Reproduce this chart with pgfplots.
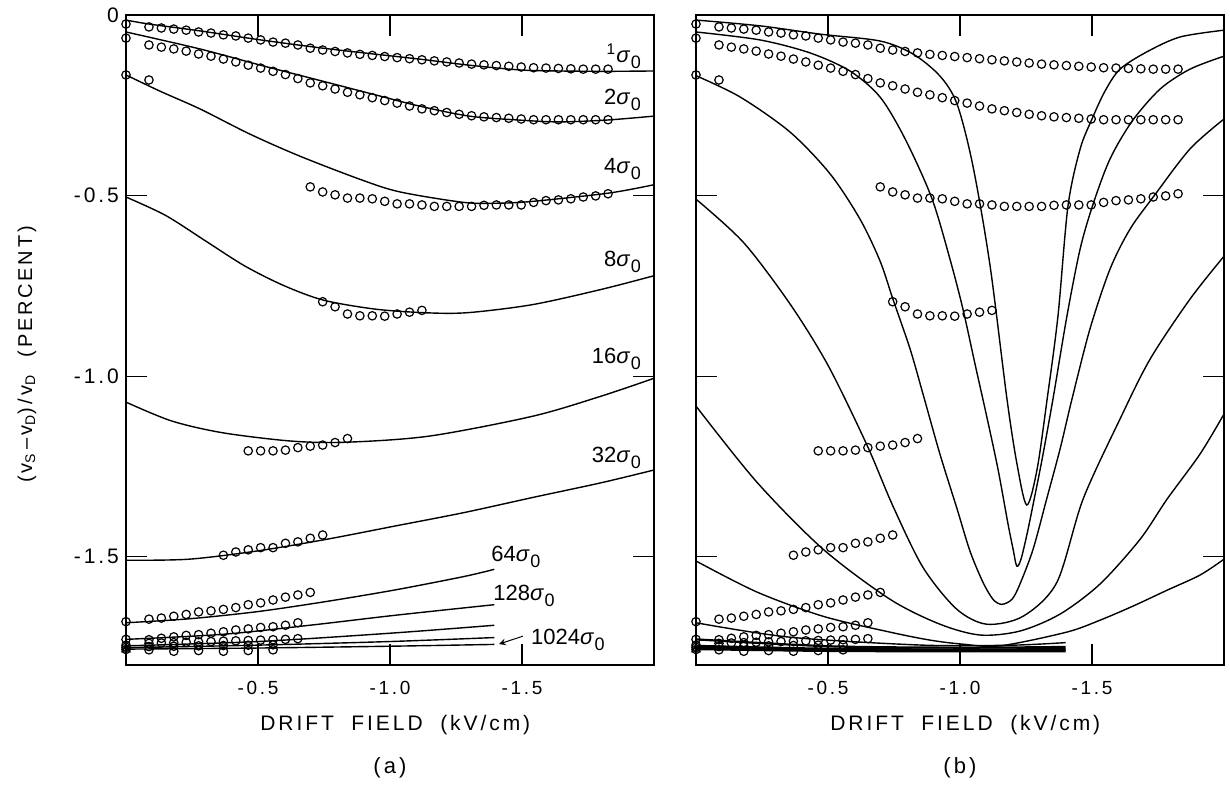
\documentclass[border=0pt]{standalone}
\usepackage{fontspec}
\setmainfont{Liberation Sans}
\newfontfamily\lab[LetterSpace=14]{Liberation Sans}
\usepackage{pgfplots}
\usepackage{pgfplotstable}
\pgfplotsset{compat=1.18}

% measured points (same data in both panels)
\pgfplotstableread{
x y
0 -0.025
-0.087 -0.033
-0.134 -0.036
-0.181 -0.039
-0.228 -0.042
-0.275 -0.047
-0.322 -0.050
-0.369 -0.055
-0.416 -0.058
-0.463 -0.064
-0.510 -0.069
-0.557 -0.075
-0.604 -0.078
-0.651 -0.083
-0.698 -0.092
-0.745 -0.097
-0.792 -0.101
-0.839 -0.105
-0.886 -0.109
-0.933 -0.112
-0.980 -0.115
-1.027 -0.118
-1.074 -0.121
-1.121 -0.124
-1.168 -0.127
-1.215 -0.130
-1.262 -0.133
-1.309 -0.136
-1.356 -0.138
-1.403 -0.140
-1.450 -0.142
-1.497 -0.144
-1.544 -0.146
-1.591 -0.147
-1.638 -0.148
-1.685 -0.149
-1.732 -0.150
-1.779 -0.150
-1.826 -0.150
}\cOne
\pgfplotstableread{
x y
0 -0.064
-0.087 -0.083
-0.134 -0.089
-0.181 -0.094
-0.228 -0.100
-0.275 -0.108
-0.322 -0.114
-0.369 -0.122
-0.416 -0.130
-0.463 -0.139
-0.510 -0.147
-0.557 -0.156
-0.604 -0.165
-0.651 -0.176
-0.698 -0.188
-0.745 -0.196
-0.792 -0.205
-0.839 -0.214
-0.886 -0.221
-0.933 -0.229
-0.980 -0.237
-1.027 -0.244
-1.074 -0.252
-1.121 -0.260
-1.168 -0.265
-1.215 -0.270
-1.262 -0.275
-1.309 -0.279
-1.356 -0.282
-1.403 -0.284
-1.450 -0.286
-1.497 -0.288
-1.544 -0.290
-1.591 -0.290
-1.638 -0.290
-1.685 -0.290
-1.732 -0.290
-1.779 -0.290
-1.826 -0.290
}\cTwo
\pgfplotstableread{
x y
0 -0.166
-0.087 -0.180
-0.698 -0.476
-0.745 -0.490
-0.792 -0.498
-0.839 -0.507
-0.886 -0.507
-0.933 -0.509
-0.980 -0.516
-1.027 -0.523
-1.074 -0.523
-1.121 -0.526
-1.168 -0.530
-1.215 -0.530
-1.262 -0.530
-1.309 -0.530
-1.356 -0.527
-1.403 -0.526
-1.450 -0.526
-1.497 -0.526
-1.544 -0.519
-1.591 -0.514
-1.638 -0.512
-1.685 -0.509
-1.732 -0.504
-1.779 -0.501
-1.826 -0.495
}\cFour
\pgfplotstableread{
x y
-0.745 -0.794
-0.792 -0.808
-0.839 -0.828
-0.886 -0.833
-0.933 -0.833
-0.980 -0.834
-1.027 -0.828
-1.074 -0.823
-1.121 -0.818
}\cEight
\pgfplotstableread{
x y
-0.463 -1.207
-0.510 -1.207
-0.557 -1.207
-0.604 -1.205
-0.651 -1.198
-0.698 -1.194
-0.745 -1.191
-0.792 -1.184
-0.839 -1.173
}\cSixteen
\pgfplotstableread{
x y
-0.369 -1.496
-0.416 -1.487
-0.463 -1.481
-0.510 -1.475
-0.557 -1.475
-0.604 -1.463
-0.651 -1.459
-0.698 -1.449
-0.745 -1.440
}\cThirtytwo
\pgfplotstableread{
x y
0 -1.680
-0.087 -1.673
-0.134 -1.670
-0.181 -1.665
-0.228 -1.660
-0.275 -1.653
-0.322 -1.650
-0.369 -1.646
-0.416 -1.641
-0.463 -1.633
-0.510 -1.628
-0.557 -1.620
-0.604 -1.612
-0.651 -1.606
-0.698 -1.599
}\cSixtyfour
\pgfplotstableread{
x y
0 -1.729
-0.087 -1.730
-0.134 -1.726
-0.181 -1.722
-0.228 -1.718
-0.275 -1.716
-0.322 -1.712
-0.369 -1.708
-0.416 -1.703
-0.463 -1.700
-0.510 -1.696
-0.557 -1.694
-0.604 -1.690
-0.651 -1.683
}\cOnetwentyeight
\pgfplotstableread{
x y
0 -1.745
-0.087 -1.740
-0.134 -1.739
-0.181 -1.738
-0.228 -1.737
-0.275 -1.736
-0.322 -1.735
-0.369 -1.734
-0.416 -1.733
-0.463 -1.732
-0.510 -1.731
-0.557 -1.730
-0.604 -1.729
-0.651 -1.727
}\cTwofiftysix
\pgfplotstableread{
x y
0 -1.751
-0.087 -1.749
-0.181 -1.748
-0.275 -1.747
-0.369 -1.746
-0.463 -1.745
-0.557 -1.744
}\cFivetwelve
\pgfplotstableread{
x y
0 -1.757
-0.087 -1.758
-0.181 -1.762
-0.275 -1.760
-0.369 -1.762
-0.463 -1.760
-0.557 -1.758
}\cTentwentyfour

\pgfplotsset{
  panel/.style={
    scale only axis, width=264pt, height=325pt,
    xmin=-2, xmax=0, ymin=-1.8, ymax=0, x dir=reverse,
    clip=false,
    xtick={-1.5,-1,-0.5}, xticklabels={-1.5,-1.0,-0.5},
    ytick={-1.5,-1,-0.5,0},
    tick align=inside, xtick pos=both, ytick pos=both,
    major tick length=10.5pt,
    tick style={black, line width=0.6pt},
    axis line style={line width=0.9pt},
    xticklabel style={font=\lab\fontsize{9.5}{11}\selectfont, yshift=-4.5pt},
    yticklabel style={font=\lab\fontsize{10.5}{12}\selectfont},
  },
  curve/.style={black, line width=0.7pt, smooth, no marks},
  band/.style={black, line width=1.1pt, smooth, no marks},
  dots/.style={only marks, mark=o, mark size=2.1pt, mark options={line width=0.6pt, black}},
}

\newcommand{\sig}[1]{#1\textit{σ}\kern0.3pt\raisebox{-0.55ex}{\fontsize{9}{10}\selectfont 0}}

\newcommand{\circles}{%
  \addplot[dots] table {\cOne};
  \addplot[dots] table {\cTwo};
  \addplot[dots] table {\cFour};
  \addplot[dots] table {\cEight};
  \addplot[dots] table {\cSixteen};
  \addplot[dots] table {\cThirtytwo};
  \addplot[dots] table {\cSixtyfour};
  \addplot[dots] table {\cOnetwentyeight};
  \addplot[dots] table {\cTwofiftysix};
  \addplot[dots] table {\cFivetwelve};
  \addplot[dots] table {\cTentwentyfour};
  \addplot[only marks, mark=triangle, mark size=2.4pt, mark options={black, line width=0.6pt}] coordinates {(0,-1.757)};
}

\begin{document}
\begin{tikzpicture}
\path[use as bounding box] (-63pt,-61pt) rectangle (552pt,332.5pt);

% ---- panel (a)
\begin{axis}[panel, yticklabels={-1.5,-1.0,-0.5,0}]
\addplot[curve] coordinates {(0,-0.014) (-0.087,-0.025) (-0.28,-0.044) (-0.51,-0.069) (-0.77,-0.094) (-1.11,-0.122) (-1.30,-0.139) (-1.49,-0.152) (-1.64,-0.155) (-1.82,-0.156) (-2.0,-0.155)};
\addplot[curve] coordinates {(0,-0.047) (-0.28,-0.094) (-0.51,-0.139) (-0.77,-0.188) (-0.96,-0.224) (-1.11,-0.252) (-1.30,-0.280) (-1.49,-0.291) (-1.64,-0.296) (-1.82,-0.291) (-2.0,-0.280)};
\addplot[curve] coordinates {(0,-0.166) (-0.129,-0.211) (-0.280,-0.260) (-0.470,-0.330) (-0.659,-0.391) (-0.890,-0.456) (-1.038,-0.490) (-1.280,-0.519) (-1.417,-0.521) (-1.542,-0.516) (-1.830,-0.493) (-2.0,-0.470)};
\addplot[curve] coordinates {(0,-0.504) (-0.15,-0.555) (-0.3,-0.625) (-0.45,-0.695) (-0.6,-0.750) (-0.75,-0.790) (-0.95,-0.815) (-1.15,-0.825) (-1.3,-0.824) (-1.54,-0.802) (-1.8,-0.760) (-2.0,-0.722)};
\addplot[curve] coordinates {(0,-1.072) (-0.172,-1.124) (-0.367,-1.157) (-0.628,-1.180) (-0.837,-1.183) (-1.150,-1.166) (-1.541,-1.111) (-1.802,-1.055) (-2.0,-1.006)};
\addplot[curve] coordinates {(0,-1.510) (-0.238,-1.507) (-0.499,-1.484) (-0.759,-1.452) (-1.020,-1.415) (-1.280,-1.378) (-1.541,-1.336) (-1.802,-1.295) (-2.0,-1.260)};
\addplot[curve] coordinates {(0,-1.683) (-0.24,-1.672) (-0.5,-1.652) (-0.76,-1.624) (-1.02,-1.592) (-1.28,-1.555) (-1.395,-1.535)};
\addplot[curve] coordinates {(0,-1.729) (-0.367,-1.715) (-0.695,-1.690) (-1.023,-1.662) (-1.395,-1.633)};
\addplot[curve] coordinates {(0,-1.747) (-0.5,-1.735) (-1.0,-1.712) (-1.395,-1.690)};
\addplot[curve] coordinates {(0,-1.752) (-0.5,-1.745) (-1.0,-1.735) (-1.395,-1.724)};
\addplot[curve] coordinates {(0,-1.756) (-0.5,-1.753) (-1.0,-1.748) (-1.395,-1.743)};
\circles
\begin{scope}[font=\fontsize{11}{13}\selectfont]
\node[anchor=east] at (axis cs:-1.977,-0.114) {\textsuperscript{1}\textit{σ}\kern0.3pt\raisebox{-0.55ex}{\fontsize{9}{10}\selectfont 0}};
\node[anchor=east] at (axis cs:-1.977,-0.235) {\sig{2}};
\node[anchor=east] at (axis cs:-1.977,-0.427) {\sig{4}};
\node[anchor=east] at (axis cs:-1.977,-0.684) {\sig{8}};
\node[anchor=east] at (axis cs:-1.977,-0.953) {\sig{16}};
\node[anchor=east] at (axis cs:-1.977,-1.227) {\sig{32}};
\node at (axis cs:-1.477,-1.501) {\sig{64}};
\node at (axis cs:-1.508,-1.609) {\sig{128}};
\node at (axis cs:-1.674,-1.731) {\sig{1024}};
\end{scope}
\draw[->, line width=0.5pt, >=stealth] (axis cs:-1.504,-1.720) -- (axis cs:-1.413,-1.742);
\node[font=\lab\fontsize{10}{12}\selectfont, rotate=90] at ([xshift=-49.5pt]axis cs:0,-0.94)
  {(v\textsubscript{S}\,–\,v\textsubscript{D})\,/\,v\textsubscript{D}\ \ (PERCENT)};
\node[font=\lab\fontsize{10.5}{12}\selectfont] at ([yshift=-30pt]axis cs:-1.02,-1.8) {DRIFT\ \ FIELD\ \ (kV/cm)};
\node[font=\lab\fontsize{11}{13}\selectfont] at ([yshift=-51.5pt]axis cs:-1.0,-1.8) {(a)};
\end{axis}

% ---- panel (b)
\begin{axis}[panel, at={(285pt,0pt)}, yticklabels={}]
\addplot[curve] coordinates {(0,-0.014) (-0.242,-0.030) (-0.470,-0.053) (-0.697,-0.072) (-0.822,-0.108) (-0.924,-0.169) (-0.989,-0.247) (-1.049,-0.418) (-1.114,-0.695) (-1.178,-1.064) (-1.216,-1.244) (-1.253,-1.357) (-1.292,-1.258) (-1.330,-1.064) (-1.371,-0.834) (-1.409,-0.529) (-1.455,-0.371) (-1.500,-0.288) (-1.549,-0.211) (-1.606,-0.150) (-1.708,-0.102) (-1.833,-0.061) (-2.0,-0.042)};
\addplot[curve] coordinates {(0,-0.047) (-0.242,-0.069) (-0.432,-0.105) (-0.583,-0.155) (-0.697,-0.227) (-0.792,-0.343) (-0.893,-0.507) (-0.962,-0.676) (-1.011,-0.814) (-1.057,-0.967) (-1.101,-1.111) (-1.144,-1.258) (-1.182,-1.410) (-1.201,-1.479) (-1.215,-1.526) (-1.231,-1.507) (-1.254,-1.437) (-1.277,-1.355) (-1.311,-1.230) (-1.352,-1.064) (-1.405,-0.834) (-1.455,-0.648) (-1.504,-0.524) (-1.568,-0.399) (-1.652,-0.294) (-1.758,-0.205) (-1.871,-0.150) (-2.0,-0.114)};
\addplot[curve] coordinates {(0,-0.168) (-0.167,-0.227) (-0.356,-0.324) (-0.508,-0.440) (-0.621,-0.565) (-0.697,-0.681) (-0.746,-0.787) (-0.811,-0.925) (-0.860,-1.050) (-0.924,-1.216) (-0.989,-1.368) (-1.038,-1.485) (-1.087,-1.571) (-1.125,-1.618) (-1.158,-1.632) (-1.197,-1.618) (-1.227,-1.576) (-1.277,-1.479) (-1.328,-1.341) (-1.379,-1.202) (-1.424,-1.064) (-1.492,-0.870) (-1.568,-0.704) (-1.644,-0.593) (-1.735,-0.501) (-1.871,-0.371) (-2.0,-0.288)};
\addplot[curve] coordinates {(0,-0.510) (-0.18,-0.630) (-0.356,-0.800) (-0.5,-0.970) (-0.647,-1.190) (-0.746,-1.360) (-0.86,-1.530) (-0.987,-1.645) (-1.101,-1.687) (-1.239,-1.665) (-1.367,-1.571) (-1.466,-1.341) (-1.606,-1.119) (-1.720,-0.953) (-1.871,-0.787) (-2.0,-0.668)};
\addplot[curve] coordinates {(0,-1.083) (-0.231,-1.294) (-0.481,-1.479) (-0.735,-1.618) (-0.924,-1.687) (-1.076,-1.717) (-1.227,-1.706) (-1.379,-1.659) (-1.530,-1.576) (-1.682,-1.452) (-1.784,-1.341) (-1.909,-1.216) (-2.0,-1.105)};
\addplot[curve] coordinates {(0,-1.512) (-0.231,-1.598) (-0.481,-1.665) (-0.735,-1.709) (-0.886,-1.731) (-1.006,-1.742) (-1.152,-1.747) (-1.404,-1.709) (-1.530,-1.676) (-1.655,-1.637) (-1.784,-1.593) (-1.909,-1.551) (-2.0,-1.507)};
\addplot[curve] coordinates {(0,-1.683) (-0.356,-1.723) (-0.86,-1.745) (-1.2,-1.745) (-1.40,-1.738)};
\addplot[band] coordinates {(0,-1.729) (-0.5,-1.748) (-1.0,-1.752) (-1.40,-1.750)};
\addplot[band] coordinates {(0,-1.747) (-0.5,-1.755) (-1.0,-1.757) (-1.40,-1.756)};
\addplot[band] coordinates {(0,-1.752) (-0.5,-1.758) (-1.0,-1.760) (-1.40,-1.759)};
\addplot[band] coordinates {(0,-1.756) (-0.5,-1.761) (-1.0,-1.762) (-1.40,-1.762)};
\circles
\node[font=\lab\fontsize{10.5}{12}\selectfont] at ([yshift=-30pt]axis cs:-1.02,-1.8) {DRIFT\ \ FIELD\ \ (kV/cm)};
\node[font=\lab\fontsize{11}{13}\selectfont] at ([yshift=-51.5pt]axis cs:-1.0,-1.8) {(b)};
\end{axis}
\end{tikzpicture}
\end{document}
